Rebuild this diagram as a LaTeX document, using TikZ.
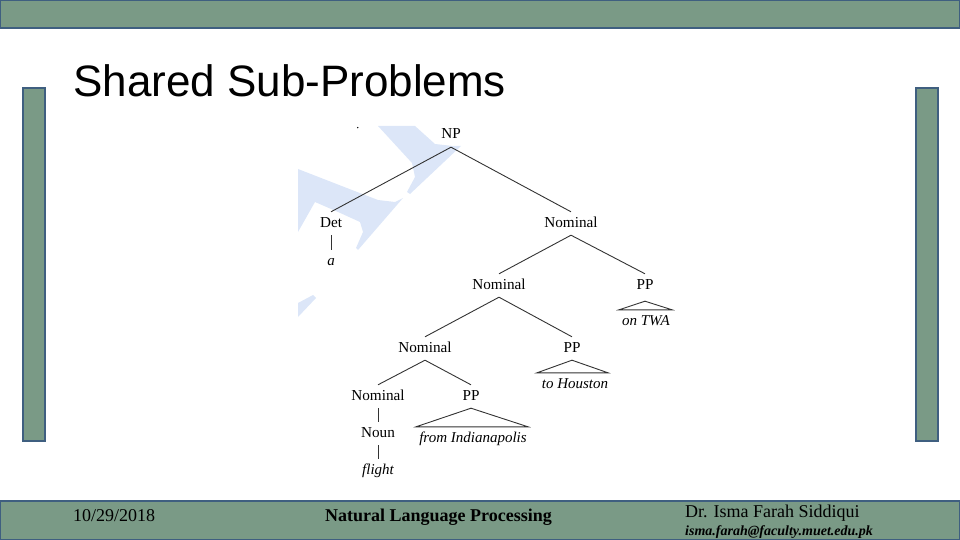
\documentclass[tikz,border=0pt]{standalone}
\usepackage{fontspec}
\setmainfont{Liberation Serif}
\newfontfamily\titlefont{Liberation Sans}
\definecolor{bandgreen}{HTML}{7A9A86}
\definecolor{bandblue}{HTML}{3F5F80}
\definecolor{planeblue}{HTML}{DCE6F8}
\tikzset{
  band/.style={draw=bandblue, line width=2pt, fill=bandgreen},
  tree/.style={font=\fontsize{15.2}{17}\selectfont, inner sep=0pt, anchor=base, text height=15pt, text depth=8pt, text=black},
  leaf/.style={tree, font=\fontsize{15}{17}\selectfont\itshape, text depth=2pt},
  edge/.style={draw=black!80, line width=0.9pt},
  foot/.style={anchor=base west, inner sep=0pt}
}
\begin{document}
\begin{tikzpicture}[x=1pt, y=-1pt]
  \useasboundingbox (0, 0) rectangle (960, 540);

  % bands and side bars
  \draw [band] (0, 0) rectangle (960, 28.5);
  \draw [band] (0, 500.5) rectangle (960, 540);
  \draw [band] (22.5, 88) rectangle (44.5, 441);
  \draw [band] (916, 88) rectangle (938, 441);

  % watermark
  \begin{scope}
    \clip (298, 126) rectangle (480, 330);
    \fill [planeblue] (378, 126) -- (415, 126) -- (435, 144) -- (453, 146) -- (461, 146) -- (410, 194) -- (407, 192) -- (415, 177) -- (412, 163) -- cycle;
    \fill [planeblue] (298, 169) -- (352, 190) -- (378, 200) -- (395, 202) -- (403, 198) -- (358, 250) -- (356, 248) -- (363, 232) -- (360, 222) -- (338, 212) -- (315, 202) -- (298, 232) -- cycle;
    \fill [planeblue] (298, 303) -- (313, 295) -- (316, 298) -- (298, 317) -- cycle;
  \end{scope}
  \fill [black] (357.7, 127.6) circle [radius=0.8pt];

  % title
  \node (title) [anchor=base west, inner sep=0pt, font=\titlefont\fontsize{44}{50}\selectfont] at (73, 96.5) {Shared Sub-Problems};

  % tree
  \node (np) [tree] at (451, 139) {NP};
  \node (det) [tree] at (331, 227) {Det};
  \node (a) [leaf] at (331, 265) {a};
  \node (nom1) [tree] at (571, 227) {Nominal};
  \node (nom2) [tree] at (499, 289) {Nominal};
  \node (pp1) [tree, text depth=12pt] at (645, 289) {PP};
  \node (twa) [leaf] at (646, 325) {on TWA};
  \node (nom3) [tree] at (425, 352) {Nominal};
  \node (pp2) [tree] at (572, 352) {PP};
  \node (houston) [leaf] at (575, 388) {to Houston};
  \node (nom4) [tree] at (378, 400) {Nominal};
  \node (pp3) [tree] at (471, 400) {PP};
  \node (indy) [leaf] at (473, 442) {from Indianapolis};
  \node (noun) [tree] at (378, 437) {Noun};
  \node (flight) [leaf] at (378, 474) {flight};

  % branches
  \draw [edge] (np.south) -- (det.north);
  \draw [edge] (np.south) -- (nom1.north);
  \draw [edge] (det.south) -- (a.north);
  \draw [edge] (nom1.south) -- (nom2.north);
  \draw [edge] (nom1.south) -- (pp1.north);
  \draw [edge] (nom2.south) -- (nom3.north);
  \draw [edge] (nom2.south) -- (pp2.north);
  \draw [edge] (nom3.south) -- (nom4.north);
  \draw [edge] (nom3.south) -- (pp3.north);
  \draw [edge] (nom4.south) -- (noun.north);
  \draw [edge] (noun.south) -- (flight.north);

  % triangles
  \draw [edge] (pp1.south) -- (twa.north -| 619, 0) -- (twa.north -| 672, 0) -- cycle;
  \draw [edge] (pp2.south) -- (houston.north -| 537, 0) -- (houston.north -| 608, 0) -- cycle;
  \draw [edge] (pp3.south) -- (indy.north -| 416, 0) -- (indy.north -| 528, 0) -- cycle;

  % footer
  \node (date) [foot, font=\fontsize{18}{20}\selectfont] at (73, 521) {10/29/2018};
  \node (course) [foot, font=\bfseries\fontsize{18}{20}\selectfont] at (325, 521) {Natural Language Processing};
  \node (name) [foot, font=\fontsize{18}{20}\selectfont] at (685, 517) {Dr. Isma Farah Siddiqui};
  \node (mail) [foot, font=\bfseries\itshape\fontsize{14}{16}\selectfont] at (685, 535) {isma.farah@faculty.muet.edu.pk};
\end{tikzpicture}
\end{document}
